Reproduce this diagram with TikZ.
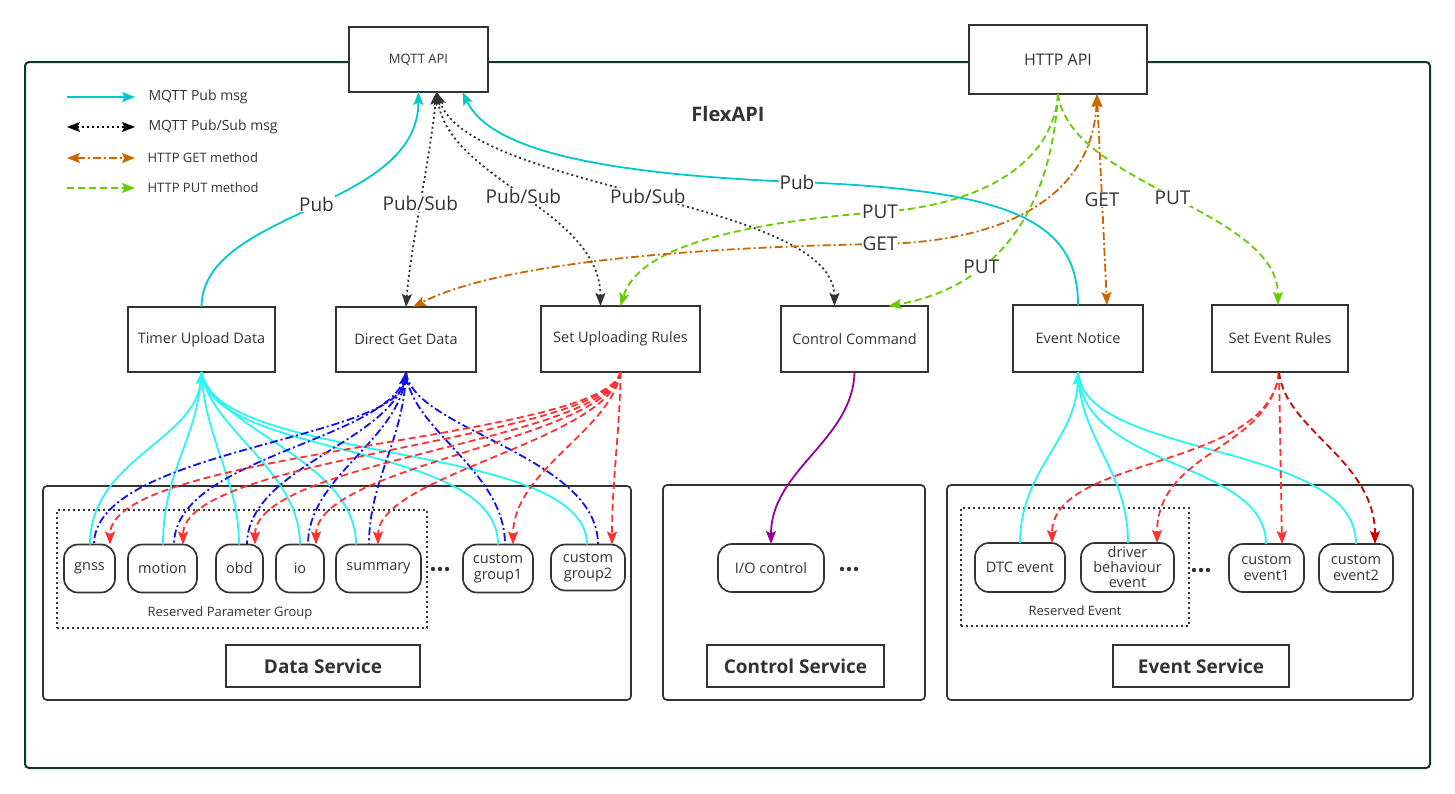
\documentclass[tikz,border=0pt]{standalone}
\usepackage{fontspec}
\setmainfont{Open Sans}
\usetikzlibrary{arrows.meta}
\definecolor{txt}{HTML}{333333}
\definecolor{framec}{HTML}{0B3A26}
\definecolor{cyanA}{HTML}{00C8CC}
\definecolor{cyanB}{HTML}{2AF5F5}
\definecolor{blueL}{HTML}{1010F0}
\definecolor{redL}{HTML}{FF3030}
\definecolor{redD}{HTML}{CC0000}
\definecolor{greenL}{HTML}{66CC00}
\definecolor{orangeL}{HTML}{CC6600}
\definecolor{purpleL}{HTML}{990099}
\begin{document}
\begin{tikzpicture}[x=1pt,y=-1pt,
  every node/.style={text=txt},
  box/.style={draw=txt,line width=1.7pt,fill=white,inner sep=0pt,outer sep=0pt,font=\fontsize{14.5}{17}\selectfont},
  pill/.style={draw=txt,line width=1.7pt,fill=white,rounded corners=14pt,inner sep=0pt,outer sep=0pt,align=center,font=\fontsize{14.5}{16}\selectfont},
  container/.style={draw=txt,line width=1.7pt,rounded corners=4pt,inner sep=0pt,outer sep=0pt},
  svc/.style={draw=txt,line width=1.7pt,fill=white,inner sep=0pt,outer sep=0pt,font=\bfseries\fontsize{19}{21}\selectfont},
  dotbox/.style={draw=txt,line width=1.6pt,dash pattern=on 2pt off 3pt,inner sep=0pt,outer sep=0pt},
  lbl/.style={fill=white,inner sep=1pt,text=txt,font=\fontsize{19}{21}\selectfont},
  legtxt/.style={anchor=west,text=txt,font=\fontsize{14}{16}\selectfont},
  endtip/.style={-{Stealth[length=13pt,width=10pt,inset=2.5pt]}},
  starttip/.style={{Stealth[length=13pt,width=10pt,inset=2.5pt]}-},
  bothtip/.style={{Stealth[length=13pt,width=10pt,inset=2.5pt]}-{Stealth[length=13pt,width=10pt,inset=2.5pt]}},
  mqttpub/.style={cyanA,line width=1.8pt},
  pubsub/.style={txt,line width=1.8pt,dash pattern=on 2pt off 3pt},
  getl/.style={orangeL,line width=1.8pt,dash pattern=on 8pt off 3pt on 2pt off 3pt},
  putl/.style={greenL,line width=1.8pt,dash pattern=on 7pt off 4pt},
  cyl/.style={cyanB,line width=1.8pt},
  bll/.style={blueL,line width=1.8pt,dash pattern=on 8pt off 3pt on 2pt off 3pt},
  rdl/.style={redL,line width=1.8pt,dash pattern=on 7pt off 4pt},
  pul/.style={purpleL,line width=1.8pt}
]
\useasboundingbox (0,0) rectangle (1455,793);
\fill[white] (0,0) rectangle (1455,793);
% outer frame
\draw[framec,line width=2pt,rounded corners=4pt] (25,62) rectangle (1430,768);

% API boxes
\node[box,minimum width=139pt,minimum height=65pt,font=\fontsize{13}{15}\selectfont] (mqtt) at (418.5,59.5) {MQTT API};
\node[box,minimum width=178pt,minimum height=69pt,font=\fontsize{16}{18}\selectfont] (http) at (1058,59.5) {HTTP API};
\node[font=\bfseries\fontsize{20}{22}\selectfont] (flex) at (728,114) {FlexAPI};

% legend
\coordinate (l1a) at (67,97); \coordinate (l1b) at (135,97);
\coordinate (l2a) at (67,127); \coordinate (l2b) at (135,127);
\coordinate (l3a) at (67,158); \coordinate (l3b) at (135,158);
\coordinate (l4a) at (67,188); \coordinate (l4b) at (135,188);
\draw[mqttpub,endtip] (l1a) -- (l1b);
\draw[pubsub,bothtip,black] (l2a) -- (l2b);
\draw[getl,bothtip] (l3a) -- (l3b);
\draw[putl,endtip] (l4a) -- (l4b);
\node[legtxt] (lt1) at (145,97) {MQTT Pub msg};
\node[legtxt] (lt2) at (145,127) {MQTT Pub/Sub msg};
\node[legtxt,font=\fontsize{13}{15}\selectfont] (lt3) at (144,158) {HTTP GET method};
\node[legtxt,font=\fontsize{13}{15}\selectfont] (lt4) at (144,188) {HTTP PUT method};

% middle boxes
\node[box,minimum width=147pt,minimum height=65pt] (tud) at (201.5,339.5) {Timer Upload Data};
\node[box,minimum width=140pt,minimum height=65pt] (dgd) at (406,339.5) {Direct Get Data};
\node[box,minimum width=159pt,minimum height=66pt] (sur) at (620.5,339) {Set Uploading Rules};
\node[box,minimum width=147pt,minimum height=66pt] (cc) at (854.5,339) {Control Command};
\node[box,minimum width=130pt,minimum height=67pt] (en) at (1078,338.5) {Event Notice};
\node[box,minimum width=136pt,minimum height=67pt] (ser) at (1280,338.5) {Set Event Rules};

% service containers
\node[container,minimum width=588pt,minimum height=214pt] (dsbox) at (337,593) {};
\node[container,minimum width=262pt,minimum height=215pt] (csbox) at (794,592.5) {};
\node[container,minimum width=466pt,minimum height=215pt] (esbox) at (1180,592.5) {};
\node[svc,minimum width=194pt,minimum height=42pt] (dslbl) at (323,666) {Data Service};
\node[svc,minimum width=177pt,minimum height=42pt] (cslbl) at (795.5,666) {Control Service};
\node[svc,minimum width=176pt,minimum height=42pt] (eslbl) at (1201,666) {Event Service};

% reserved groups
\node[dotbox,minimum width=370pt,minimum height=118pt] (rpg) at (242,569) {};
\node[font=\fontsize{13}{15}\selectfont] (rpgt) at (230,613) {Reserved Parameter Group};
\node[dotbox,minimum width=228pt,minimum height=118pt] (rev) at (1075,567) {};
\node[font=\fontsize{13}{15}\selectfont] (revt) at (1075,611) {Reserved Event};

% small nodes
\node[pill,minimum width=51pt,minimum height=48pt] (gnss) at (89.5,568.5) {gnss};
\node[pill,minimum width=69pt,minimum height=48pt] (motion) at (162.5,568.5) {motion};
\node[pill,minimum width=47pt,minimum height=48pt] (obd) at (239.5,568.5) {obd};
\node[pill,minimum width=48pt,minimum height=48pt] (io) at (300,568.5) {io};
\node[pill,minimum width=85pt,minimum height=48pt] (summary) at (378.5,568.5) {summary};
\node[pill,minimum width=70pt,minimum height=48pt] (cg1) at (498,568.5) {custom\\group1};
\node[pill,minimum width=74pt,minimum height=46pt] (cg2) at (588,567.5) {custom\\group2};
\node[pill,minimum width=106pt,minimum height=48pt] (ioc) at (771,568) {I/O control};
\node[pill,minimum width=90pt,minimum height=49pt] (dtc) at (1020,567.5) {DTC event};
\node[pill,minimum width=93pt,minimum height=49pt,font=\fontsize{14.5}{15}\selectfont] (drv) at (1127.5,567.5) {driver\\behaviour\\event};
\node[pill,minimum width=75pt,minimum height=48pt] (ce1) at (1266.5,568) {custom\\event1};
\node[pill,minimum width=74pt,minimum height=48pt] (ce2) at (1356,568) {custom\\event2};

% ellipsis dots
\foreach \cx in {433,440,447} \fill[txt] (\cx,569) circle (2.2pt);
\foreach \cx in {842,849,856} \fill[txt] (\cx,569) circle (2.2pt);
\foreach \cx in {1194,1201,1208} \fill[txt] (\cx,570) circle (2.2pt);

% ---- top connectors ----
\draw[mqttpub,endtip] (tud.north) .. controls (202,210) and (418,210) .. (mqtt.south) node[lbl,pos=0.52] {Pub};
\draw[pubsub,bothtip] ([xshift=18pt]mqtt.south) .. controls (430,160) and (410,250) .. (dgd.north) node[lbl,pos=0.5] {Pub/Sub};
\draw[pubsub,bothtip] ([xshift=18pt]mqtt.south) .. controls (450,180) and (600,210) .. ([xshift=-20pt]sur.north) node[lbl,pos=0.5] {Pub/Sub};
\draw[pubsub,bothtip] ([xshift=18pt]mqtt.south) .. controls (470,190) and (834,200) .. ([xshift=-20pt]cc.north) node[lbl,pos=0.5] {Pub/Sub};
\draw[mqttpub,endtip] (en.north) .. controls (1078,220) and (1010,190) .. (797,182) node[lbl] {Pub} .. controls (600,174) and (490,150) .. ([xshift=44pt]mqtt.south);
\draw[putl,endtip] (http.south) .. controls (1052,175) and (960,207) .. (880,212) node[lbl] {PUT} .. controls (700,226) and (635,258) .. (sur.north);
\draw[getl,bothtip] ([xshift=39pt]http.south) .. controls (1092,200) and (1000,242) .. (880,244) node[lbl] {GET} .. controls (700,247) and (500,262) .. ([xshift=7pt]dgd.north);
\draw[putl,endtip] (http.south) .. controls (1050,230) and (980,290) .. ([xshift=34pt]cc.north) node[lbl,pos=0.62] {PUT};
\draw[getl,bothtip] ([xshift=39pt]http.south) -- ([xshift=29pt]en.north) node[lbl,pos=0.5] {GET};
\draw[putl,endtip] (http.south) .. controls (1070,185) and (1278,210) .. ([xshift=-2pt]ser.north) node[lbl,pos=0.5] {PUT};

% ---- data service fan: cyan (Timer Upload Data) ----
\draw[cyl,starttip] (tud.south) .. controls (195,440) and (90,460) .. ([xshift=0.5pt]gnss.north);
\draw[cyl] (tud.south) .. controls (198,440) and (163,470) .. ([xshift=0.5pt]motion.north);
\draw[cyl] (tud.south) .. controls (205,440) and (239,480) .. ([xshift=-0.5pt]obd.north);
\draw[cyl] (tud.south) .. controls (210,430) and (300,470) .. (io.north);
\draw[cyl] (tud.south) .. controls (215,430) and (356,460) .. ([xshift=-22.5pt]summary.north);
\draw[cyl] (tud.south) .. controls (210,460) and (498,440) .. (cg1.north);
\draw[cyl] (tud.south) .. controls (215,465) and (587,440) .. ([xshift=-1pt]cg2.north);

% blue (Direct Get Data)
\draw[bll,starttip] (dgd.south) .. controls (395,440) and (94,450) .. ([xshift=4.5pt]gnss.north);
\draw[bll] (dgd.south) .. controls (398,440) and (174,455) .. ([xshift=11.5pt]motion.north);
\draw[bll] (dgd.south) .. controls (400,440) and (247,465) .. ([xshift=7.5pt]obd.north);
\draw[bll] (dgd.south) .. controls (402,440) and (308,475) .. ([xshift=8pt]io.north);
\draw[bll] (dgd.south) .. controls (404,440) and (369,480) .. ([xshift=-9.5pt]summary.north);
\draw[bll] (dgd.south) .. controls (410,430) and (505,470) .. ([xshift=7pt]cg1.north);
\draw[bll] (dgd.south) .. controls (412,430) and (598,455) .. ([xshift=10pt]cg2.north);

% red (Set Uploading Rules)
\draw[rdl,endtip] (sur.south) .. controls (605,440) and (110,450) .. ([xshift=20.5pt]gnss.north);
\draw[rdl,endtip] (sur.south) .. controls (605,440) and (183,455) .. ([xshift=20.5pt]motion.north);
\draw[rdl,endtip] (sur.south) .. controls (607,440) and (255,460) .. ([xshift=15.5pt]obd.north);
\draw[rdl,endtip] (sur.south) .. controls (608,440) and (316,465) .. ([xshift=16pt]io.north);
\draw[rdl,endtip] (sur.south) .. controls (610,440) and (378,475) .. ([xshift=-0.5pt]summary.north);
\draw[rdl,endtip] (sur.south) .. controls (612,430) and (513,470) .. ([xshift=15pt]cg1.north);
\draw[rdl,endtip] (sur.south) .. controls (620,430) and (612,480) .. ([xshift=24pt]cg2.north);

% control
\draw[pul,endtip] (cc.south) .. controls (853,440) and (771,470) .. (ioc.north);

% event: cyan (Event Notice)
\draw[cyl,starttip] (en.south) .. controls (1076,440) and (1020,470) .. (dtc.north);
\draw[cyl] (en.south) .. controls (1080,440) and (1128,470) .. ([xshift=0.5pt]drv.north);
\draw[cyl] (en.south) .. controls (1082,470) and (1266,460) .. ([xshift=-0.5pt]ce1.north);
\draw[cyl] (en.south) .. controls (1085,460) and (1356,440) .. (ce2.north);

% event: red (Set Event Rules)
\draw[rdl,endtip] ([xshift=-1pt]ser.south) .. controls (1270,470) and (1052,455) .. ([xshift=32pt]dtc.north);
\draw[rdl,endtip] ([xshift=-1pt]ser.south) .. controls (1270,450) and (1157,450) .. ([xshift=29.5pt]drv.north);
\draw[rdl,endtip] ([xshift=-1pt]ser.south) -- ([xshift=15.5pt]ce1.north);
\draw[rdl,redD,endtip] ([xshift=-1pt]ser.south) .. controls (1285,430) and (1375,460) .. ([xshift=19pt]ce2.north);
\end{tikzpicture}
\end{document}
